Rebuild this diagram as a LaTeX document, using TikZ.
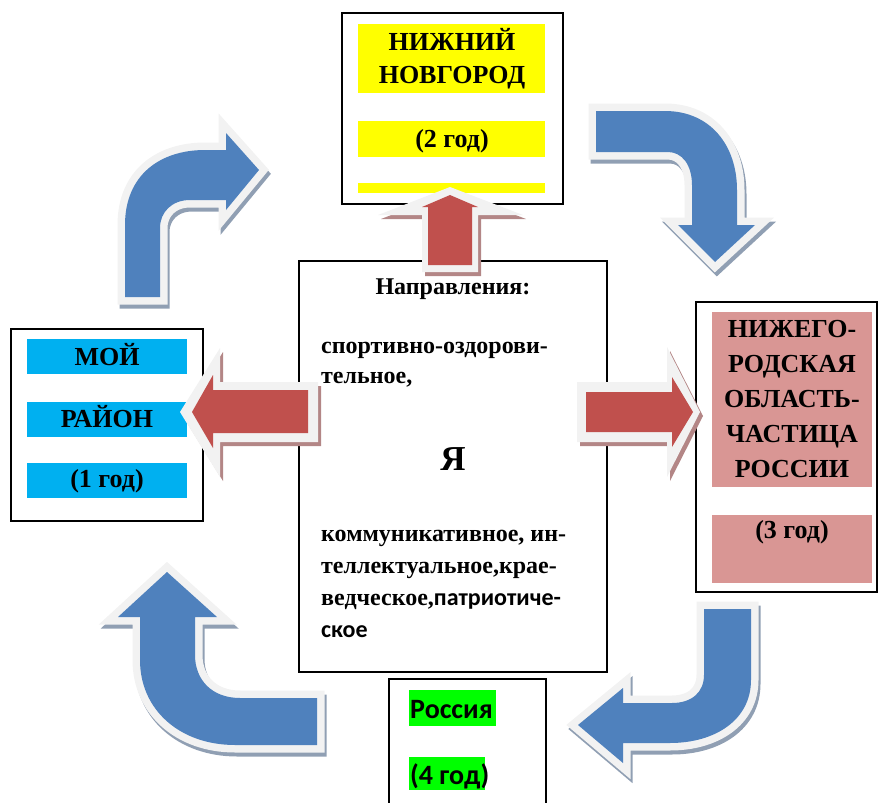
\documentclass[tikz,border=0pt]{standalone}
\usepackage{fontspec}
\setmainfont{Liberation Serif}
\newfontfamily\calibri{Carlito}

\definecolor{arrowblue}{HTML}{4F81BD}
\definecolor{arrowred}{HTML}{C0504D}
\definecolor{rim}{HTML}{F2F2F2}
\definecolor{blueshade}{HTML}{909FB3}
\definecolor{redshade}{HTML}{B38686}
\definecolor{barcyan}{HTML}{00B0F0}
\definecolor{barpink}{HTML}{D99694}
\definecolor{bargreen}{HTML}{00FF00}
\definecolor{baryellow}{HTML}{FFFF00}

\tikzset{
  box/.style={draw, line width=1.6pt, inner sep=0pt},
  head/.style={anchor=base, inner sep=0pt, font=\bfseries\fontsize{26}{30}\selectfont},
  body/.style={anchor=base west, inner sep=0pt, font=\bfseries\fontsize{24}{28}\selectfont},
  sanshead/.style={anchor=base west, inner sep=0pt, font=\calibri\bfseries\fontsize{28}{32}\selectfont},
  bluearrow/.style={fill=arrowblue,
    preaction={draw=blueshade, fill=blueshade, line width=15pt, transform canvas={shift={(2pt,-4pt)}}},
    preaction={draw=rim, fill=rim, line width=15pt}},
  redrim/.style={fill=rim,
    preaction={fill=redshade, transform canvas={shift={(3pt,-4pt)}}}},
}

\begin{document}
\begin{tikzpicture}[x=1pt, y=-1pt, line join=miter]
    \useasboundingbox (0,0) rectangle (879,803);

    % Boxes
    \node[box, minimum width=221pt, minimum height=191pt] (novgorod) at (452.5,108.5) {};
    \node[box, minimum width=192pt, minimum height=192pt] (rayon) at (107,425) {};
    \node[box, minimum width=308pt, minimum height=411pt] (center) at (453,466.5) {};
    \node[box, minimum width=181pt, minimum height=290pt] (oblast) at (786.5,447) {};
    \node[box, minimum width=157pt, minimum height=141pt] (rossiya) at (467.5,749.5) {};

    % Highlight bars
    \fill[baryellow] (358,24) rectangle (545,93);
    \fill[baryellow] (358,121) rectangle (545,157);
    \fill[baryellow] (358,183) rectangle (545,193);
    \fill[barcyan] (27,339) rectangle (187,374);
    \fill[barcyan] (27,402) rectangle (187,437);
    \fill[barcyan] (27,463) rectangle (187,498);
    \fill[barpink] (712,312) rectangle (872,487);
    \fill[barpink] (712,515) rectangle (872,583);
    \fill[bargreen] (409,690) rectangle (496,726);
    \fill[bargreen] (409,757) rectangle (485,790);

    % Year labels
    \node[head] (novgorod1) at (452,50) {НИЖНИЙ};
    \node[head] (novgorod2) at (452,83) {НОВГОРОД};
    \node[head] (novgorod3) at (452,147) {(2 год)};
    \node[head] (rayon1) at (107,365) {МОЙ};
    \node[head] (rayon2) at (107,427) {РАЙОН};
    \node[head] (rayon3) at (107,487) {(1 год)};
    \node[head] (oblast1) at (792,337) {НИЖЕГО-};
    \node[head] (oblast2) at (792,372) {РОДСКАЯ};
    \node[head] (oblast3) at (792,407) {ОБЛАСТЬ-};
    \node[head] (oblast4) at (792,442) {ЧАСТИЦА};
    \node[head] (oblast5) at (792,477) {РОССИИ};
    \node[head] (oblast6) at (792,538) {(3 год)};
    \node[sanshead] (rossiya1) at (410,718) {Россия};
    \node[sanshead] (rossiya2) at (410,784) {(4 год)};

    % Centre text
    \node[head, font=\bfseries\fontsize{24}{28}\selectfont] (dir) at (453,294) {Направления:};
    \node[body] (dir1) at (321,353) {спортивно-оздорови-};
    \node[body] (dir2) at (321,383) {тельное,};
    \node[head, font=\bfseries\fontsize{35}{40}\selectfont] (ya) at (453,470) {Я};
    \node[body] (dir3) at (321,541) {коммуникативное, ин-};
    \node[body] (dir4) at (321,573) {теллектуальное,крае-};
    \node[body] (dir5) at (321,605) {ведческое,{\calibri\bfseries патриотиче-}};
    \node[body, font=\calibri\bfseries\fontsize{24}{28}\selectfont] (dir6) at (321,637) {ское};

    % Red arrows out of the centre
    \fill[redrim] (422,272) -- (422,215) -- (378,215) -- (450,187) -- (523,215) -- (478,215) -- (478,272) -- cycle;
    \fill[arrowred] (428,265) -- (428,207) -- (422,207) -- (450,195) -- (478,207) -- (472,207) -- (472,265) -- cycle;
    \fill[redrim] (318,382) -- (220,382) -- (220,348) -- (180,412) -- (220,477) -- (220,442) -- (318,442) -- cycle;
    \fill[arrowred] (308,390) -- (213,390) -- (213,375) -- (192,412) -- (213,448) -- (213,433) -- (308,433) -- cycle;
    \fill[redrim] (577,382) -- (667,382) -- (667,347) -- (700,412) -- (667,477) -- (667,442) -- (577,442) -- cycle;
    \fill[arrowred] (586,392) -- (672,392) -- (672,377) -- (693,412) -- (672,447) -- (672,432) -- (586,432) -- cycle;

    % Blue arrows round the ring
    \fill[bluearrow] (125,297) -- (125,225) .. controls (125,175) and (160,150) .. (205,150)
      -- (226,150) -- (226,133) -- (259,170) -- (226,210) -- (226,200) -- (190,200)
      .. controls (172,200) and (160,212) .. (160,228) -- (160,297) -- cycle;
    \fill[bluearrow] (596,111) -- (665,111) .. controls (710,111) and (737,145) .. (737,190)
      -- (737,225) -- (755,225) -- (715,262) -- (678,225) -- (692,225) -- (692,185)
      .. controls (692,165) and (682,152) .. (668,152) -- (596,152) -- cycle;
    \fill[bluearrow] (704,609) -- (751,609) -- (751,680) .. controls (751,720) and (715,743) .. (670,743)
      -- (623,743) -- (623,763) -- (578,725) -- (623,688) -- (623,703) -- (672,703)
      .. controls (692,703) and (704,692) .. (704,675) -- cycle;
    \fill[bluearrow] (317,698) -- (240,698) .. controls (212,698) and (195,680) .. (195,655)
      -- (195,617) -- (217,617) -- (167,572) -- (118,617) -- (140,617) -- (140,660)
      .. controls (140,710) and (180,745) .. (235,745) -- (317,745) -- cycle;
\end{tikzpicture}
\end{document}
